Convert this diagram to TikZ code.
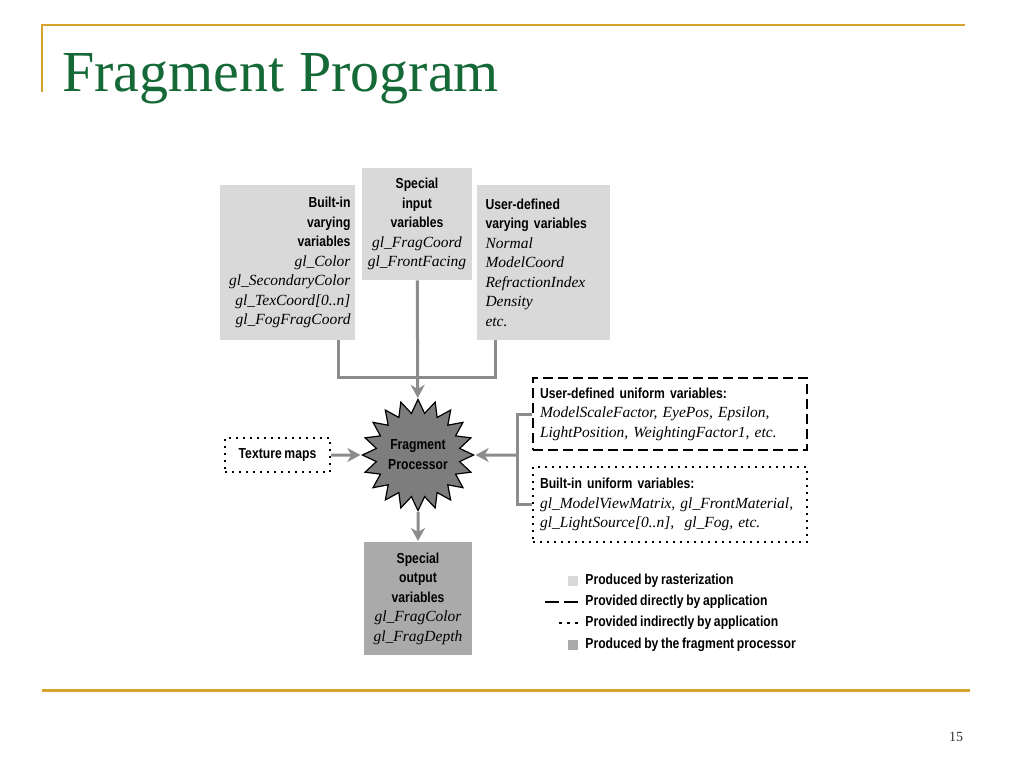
\documentclass[tikz,border=0pt]{standalone}
\usepackage{fontspec}
\setmainfont{Liberation Serif}
\newfontfamily\lblsans[FakeStretch=0.84,WordSpace=0.8]{Liberation Sans}
\usetikzlibrary{arrows.meta,positioning,shapes.geometric}
\definecolor{slidegold}{RGB}{214,163,44}
\definecolor{titlegreen}{RGB}{20,105,55}
\definecolor{rastgray}{RGB}{217,217,217}
\definecolor{fragray}{RGB}{170,170,170}
\definecolor{stargray}{RGB}{125,125,125}
\definecolor{conngray}{RGB}{140,140,140}
\newcommand\hd[1]{{\lblsans\bfseries\fontsize{7.25}{9.75}\selectfont #1}}
\newcommand\vr[1]{{\itshape\fontsize{7.75}{9.75}\selectfont #1}}
\tikzset{
  fp/rule/.style={draw=slidegold, line width=1pt},
  fp/conn/.style={draw=conngray, line width=1.5pt},
  fp/arr/.style={fp/conn, -{Stealth[length=6.5pt,width=7pt,inset=2pt]}, shorten >=0.3pt}
}

\begin{document}
\begin{tikzpicture}[
  x=0.5pt, y=-0.5pt,
  rast/.style={fill=rastgray, inner sep=0pt, font=\fontsize{7.75}{9.75}\selectfont},
  fout/.style={fill=fragray, inner sep=0pt, font=\fontsize{7.75}{9.75}\selectfont},
  direct/.style={draw, line width=1pt, dash pattern=on 5pt off 2.5pt},
  indirect/.style={draw, line width=1pt, dash pattern=on 1pt off 2.5pt},
  unibox/.style={inner sep=0pt, minimum width=137pt, text width=130pt, align=left, font=\fontsize{7.75}{9.75}\selectfont},
  legsq/.style={inner sep=0pt, minimum size=5pt},
  legtext/.style={anchor=west, inner sep=0pt, font=\fontsize{7.25}{9.75}\selectfont}
]
\useasboundingbox (0,0) rectangle (1024,768);

% slide frame
\coordinate (tl) at (42,25);
\coordinate (tr) at (965,25);
\coordinate (lb) at (42,92);
\coordinate (bl) at (42,690);
\coordinate (br) at (970,690);
\draw[fp/rule] (lb) -- (tl) -- (tr);
\draw[fp/rule, line width=1.5pt] (bl) -- (br);
\node[anchor=base west, inner sep=0pt, text=titlegreen, font=\fontsize{29}{34}\selectfont] (title) at (62,91) {Fragment Program};
\node[anchor=base, inner sep=0pt, text=black!80, font=\fontsize{7}{8}\selectfont] (pageno) at (956,741) {15};

% inputs
\node[rast, minimum width=67.5pt, minimum height=77.5pt, text width=63pt, align=right] (bvary) at (287.5,262.5)
  {\hd{Built-in}\\\hd{varying}\\\hd{variables}\\\vr{gl\_Color}\\\vr{gl\_SecondaryColor}\\\vr{gl\_TexCoord[0..n]}\\\vr{gl\_FogFragCoord}};
\node[rast, minimum width=55pt, minimum height=56pt, text width=52pt, align=center] (sinput) at (417,224)
  {\hd{Special}\\\hd{input}\\\hd{variables}\\\vr{gl\_FragCoord}\\\vr{gl\_FrontFacing}};
\node[rast, minimum width=66.5pt, minimum height=77.5pt, text width=58pt, align=left] (uvary) at (543.5,262.5)
  {\hd{User-defined}\\\hd{varying variables}\\\vr{Normal}\\\vr{ModelCoord}\\\vr{RefractionIndex}\\\vr{Density}\\\vr{etc.}};

\node[draw, shape=star, star points=20, star point ratio=1.32, minimum size=44pt, inner sep=0pt,
  fill=stargray, line width=0.6pt, align=center, font=\fontsize{7.25}{10}\selectfont] (fproc) at (418,455) {\hd{Fragment}\\\hd{Processor}};

\node[indirect, minimum width=52.5pt, minimum height=17pt, inner sep=0pt] (texmap) at (277.5,455) {\hd{Texture maps}};

\node[unibox, direct, minimum height=36pt] (uunif) at (670,414)
  {\hd{User-defined uniform variables:}\\\vr{ModelScaleFactor, EyePos, Epsilon,}\\\vr{LightPosition, WeightingFactor1, etc.}};
\node[unibox, indirect, minimum height=37.5pt] (bunif) at (670,504.5)
  {\hd{Built-in uniform variables:}\\\vr{gl\_ModelViewMatrix, gl\_FrontMaterial,}\\\vr{gl\_LightSource[0..n],\ \ gl\_Fog, etc.}};

\node[fout, minimum width=54pt, minimum height=56.5pt, text width=52pt, align=center] (soutput) at (418,598.5)
  {\hd{Special}\\\hd{output}\\\hd{variables}\\\vr{gl\_FragColor}\\\vr{gl\_FragDepth}};

% connectors
\coordinate (vj1) at (338,377);
\coordinate (vj3) at (495,377);
\coordinate (uj) at (517,455);
\draw[fp/conn] (vj1 |- bvary.south) -- (vj1) -- (vj3) -- (vj3 |- uvary.south);
\draw[fp/arr] (sinput) -- (fproc);
\draw[fp/arr] (texmap) -- (fproc);
\draw[fp/conn] (uunif.west) -| (uj) |- (bunif.west);
\draw[fp/arr] (uj) -- (fproc);
\draw[fp/arr] (fproc) -- (soutput);

% legend
\node[legsq, fill=rastgray] (lgraster) at (573,581) {};
\node[legtext] (lgrtext) at (585,581) {\hd{Produced by rasterization}};
\node[legtext] (lgdtext) at (585,602) {\hd{Provided directly by application}};
\node[legtext] (lgitext) at (585,623) {\hd{Provided indirectly by application}};
\node[legsq, fill=fragray] (lgfrag) at (573,645) {};
\node[legtext] (lgftext) at (585,645) {\hd{Produced by the fragment processor}};
\draw[line width=1pt, dash pattern=on 7pt off 2.5pt] ([xshift=-3.5pt]lgdtext.west) -- ++(-17pt,0);
\draw[line width=1pt, dash pattern=on 1.5pt off 2.5pt] ([xshift=-3.5pt]lgitext.west) -- ++(-10.5pt,0);

\end{tikzpicture}
\end{document}
